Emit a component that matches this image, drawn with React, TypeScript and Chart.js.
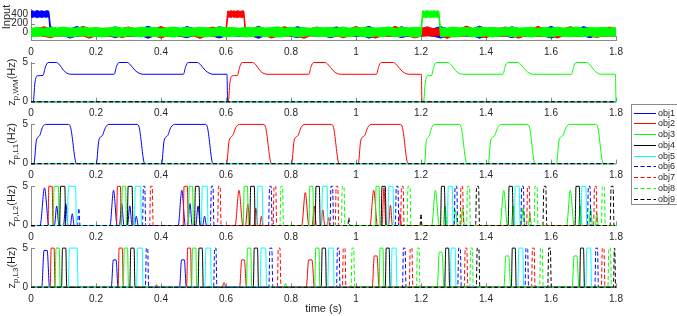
import React, { useEffect, useRef } from 'react';
import { Chart, registerables } from 'chart.js';
Chart.register(...registerables);

// ---------------- data ----------------
const xTickValues = [0, 0.2, 0.4, 0.6, 0.8, 1, 1.2, 1.4, 1.6, 1.8];
const xTickLabels = ['0', '0.2', '0.4', '0.6', '0.8', '1', '1.2', '1.4', '1.6', '1.8'];

const objNames = ['obj1', 'obj2', 'obj3', 'obj4', 'obj5', 'obj6', 'obj7', 'obj8', 'obj9'];
const objColors = ['#0000ff', '#ff0000', '#00ff00', '#000000', '#00ffff', '#0000ff', '#ff0000', '#00ff00', '#000000'];
const objDashed = [false, false, false, false, false, true, true, true, true];

// Input noise envelope (upper / lower extent), read every 0.02 s from 0 to 1.8 s
const envStep = 0.02;
const blueHi = [
  90, 85, 98, 132, 88, 94, 80, 138, 92, 86,
  96, 83, 90, 128, 87, 99, 84, 91, 142, 88,
  82, 95, 89, 86, 135, 93, 81, 97, 88, 130,
  94, 87, 83, 99, 90, 140, 85, 92, 96, 84,
  89, 133, 91, 86, 98, 82, 94, 127, 88, 93,
  85, 97, 139, 84, 90, 95, 87, 131, 92, 86,
  98, 83, 91, 136, 89, 94, 82, 96, 88, 144,
  85, 93, 99, 87, 129, 91, 84, 97, 90, 86,
  137, 92, 88, 95, 83, 134, 89, 94, 87, 91,
  86,
];
const blueLo = [
  -70, -112, -66, -78, -72, -64, -118, -75, -61, -80,
  -74, -68, -71, -108, -63, -79, -73, -67, -122, -70,
  -65, -77, -69, -81, -110, -66, -74, -62, -78, -116,
  -71, -64, -80, -68, -73, -124, -63, -76, -70, -67,
  -79, -107, -72, -65, -77, -62, -114, -74, -69, -66,
  -82, -68, -119, -71, -64, -76, -70, -106, -78, -67,
  -73, -65, -80, -117, -69, -75, -63, -77, -68, -121,
  -71, -66, -79, -72, -109, -64, -76, -70, -67, -78,
  -115, -69, -74, -65, -80, -71, -111, -66, -73, -68,
  -72,
];
const redHi = [
  88, 95, 131, 84, 92, 87, 98, 83, 141, 90,
  85, 96, 89, 81, 93, 127, 87, 99, 84, 91,
  136, 86, 95, 90, 82, 97, 88, 93, 125, 80,
  91, 88, 143, 85, 96, 90, 82, 94, 87, 133,
  89, 83, 97, 92, 124, 86, 95, 82, 93, 88,
  137, 84, 91, 98, 87, 81, 140, 90, 94, 85,
  96, 129, 83, 92, 89, 99, 86, 145, 88, 93,
  82, 95, 87, 126, 91, 84, 97, 90, 138, 86,
  92, 81, 94, 132, 88, 85, 96, 90, 83, 123,
  89,
];
const redLo = [
  -71, -66, -78, -113, -68, -74, -63, -80, -70, -121,
  -67, -76, -72, -65, -109, -69, -79, -64, -75, -71,
  -118, -67, -73, -81, -66, -70, -125, -68, -77, -63,
  -74, -106, -71, -79, -66, -72, -68, -116, -75, -65,
  -70, -78, -123, -67, -73, -69, -80, -64, -111, -72,
  -66, -75, -71, -119, -68, -77, -65, -74, -70, -114,
  -78, -67, -72, -64, -126, -69, -76, -71, -66, -79,
  -108, -68, -73, -75, -65, -120, -70, -67, -78, -72,
  -69, -117, -66, -74, -71, -77, -68, -105, -75, -70,
  -67,
];
const greenHi = [
  100, 112, 96, 118, 104, 125, 98, 110, 121, 102,
  115, 97, 108, 127, 101, 113, 99, 122, 106, 117,
  95, 111, 124, 103, 116, 100, 120, 107, 98, 126,
  109, 114, 96, 119, 105, 123, 101, 112, 128, 99,
  117, 104, 110, 96, 121, 108, 115, 102, 125, 97,
  113, 106, 119, 100, 111, 124, 98, 116, 103, 120,
  107, 95, 118, 110, 101, 126, 105, 114, 99, 122,
  109, 117, 97, 112, 123, 102, 108, 119, 96, 115,
  104, 121, 100, 113, 127, 98, 111, 106, 118, 103,
  110,
];
const greenLo = [
  -72, -85, -64, -90, -77, -68, -93, -80, -62, -87,
  -75, -95, -66, -83, -89, -70, -78, -92, -65, -86,
  -74, -81, -94, -69, -88, -63, -84, -91, -76, -67,
  -90, -79, -71, -94, -82, -65, -87, -73, -96, -78,
  -69, -91, -80, -64, -86, -75, -95, -72, -83, -89,
  -66, -81, -92, -74, -85, -62, -90, -77, -70, -94,
  -79, -67, -88, -83, -73, -96, -76, -65, -90, -82,
  -71, -93, -78, -64, -87, -80, -74, -95, -69, -84,
  -91, -66, -81, -89, -75, -86, -68, -92, -77, -72,
  -83,
];
// stimulus pulses in the input: start, end, and envelope read every 0.005 s
const bluePulse = { start: 0, end: 0.055, hi: [470, 482, 465, 478, 486, 468, 475, 480, 463, 477, 484, 472], lo: [342, 335, 350, 338, 330, 346, 340, 333, 348, 337, 344, 339] };
const redPulse = { start: 0.605, end: 0.655, hi: [475, 468, 482, 471, 479, 466, 485, 473, 469, 480, 476], lo: [338, 345, 332, 348, 336, 342, 330, 344, 339, 334, 347] };
const greenPulse = { start: 1.205, end: 1.255, hi: [481, 470, 476, 486, 467, 478, 472, 483, 469, 477, 474], lo: [336, 344, 331, 340, 347, 333, 342, 338, 345, 335, 341] };

// z_p,WM  [time, Hz]
const wmObj1 = [[0, 0], [0.007, 0], [0.012, 2.4], [0.019, 3.3], [0.037, 3.35], [0.044, 4.4], [0.053, 5], [0.078, 5], [0.088, 4.7], [0.1, 4.0], [0.11, 3.65], [0.122, 3.5], [0.256, 3.5], [0.263, 4.5], [0.271, 5], [0.296, 5], [0.306, 4.7], [0.32, 4.0], [0.332, 3.65], [0.345, 3.5], [0.469, 3.5], [0.476, 4.5], [0.484, 5], [0.512, 5], [0.522, 4.7], [0.536, 4.0], [0.548, 3.65], [0.56, 3.5], [0.603, 3.5], [0.605, 0], [1.8, 0]];
const wmObj2 = [[0, 0], [0.607, 0], [0.612, 2.4], [0.619, 3.3], [0.635, 3.35], [0.642, 4.4], [0.65, 5], [0.682, 5], [0.692, 4.7], [0.704, 4.0], [0.714, 3.65], [0.726, 3.5], [0.855, 3.5], [0.862, 4.5], [0.87, 5], [0.905, 5], [0.915, 4.7], [0.929, 4.0], [0.94, 3.65], [0.952, 3.5], [1.063, 3.5], [1.07, 4.5], [1.078, 5], [1.115, 5], [1.125, 4.7], [1.139, 4.0], [1.15, 3.65], [1.162, 3.5], [1.201, 3.5], [1.203, 0], [1.8, 0]];
const wmObj3 = [[0, 0], [1.208, 0], [1.213, 2.4], [1.22, 3.3], [1.232, 3.35], [1.239, 4.4], [1.247, 5], [1.283, 5], [1.293, 4.7], [1.306, 4.0], [1.316, 3.65], [1.328, 3.5], [1.452, 3.5], [1.459, 4.5], [1.466, 5], [1.498, 5], [1.508, 4.7], [1.522, 4.0], [1.533, 3.65], [1.545, 3.5], [1.663, 3.5], [1.67, 4.5], [1.677, 5], [1.71, 5], [1.72, 4.7], [1.733, 4.0], [1.743, 3.65], [1.752, 3.5], [1.798, 3.5], [1.8, 0]];
const zeroTrace = [[0, 0], [1.8, 0]];

// z_p,L1 [time, Hz]
const l1Obj1 = [[0, 0], [0.009, 0], [0.016, 2.8], [0.02, 3.3], [0.027, 3.6], [0.035, 4.6], [0.044, 5], [0.116, 5], [0.122, 4.6], [0.14, 0],
  [0.201, 0], [0.208, 2.8], [0.212, 3.3], [0.22, 3.6], [0.229, 4.6], [0.24, 5], [0.327, 5], [0.333, 4.6], [0.35, 0],
  [0.402, 0], [0.409, 2.8], [0.413, 3.3], [0.421, 3.6], [0.43, 4.6], [0.442, 5], [0.537, 5], [0.543, 4.6], [0.56, 0], [1.8, 0]];
const l1Obj2 = [[0, 0], [0.602, 0], [0.609, 2.8], [0.613, 3.3], [0.621, 3.6], [0.63, 4.6], [0.642, 5], [0.716, 5], [0.722, 4.6], [0.74, 0],
  [0.802, 0], [0.809, 2.8], [0.813, 3.3], [0.822, 3.6], [0.831, 4.6], [0.843, 5], [0.925, 5], [0.931, 4.6], [0.948, 0],
  [1.007, 0], [1.014, 2.8], [1.018, 3.3], [1.027, 3.6], [1.036, 4.6], [1.048, 5], [1.137, 5], [1.143, 4.6], [1.16, 0], [1.8, 0]];
const l1Obj3 = [[0, 0], [1.211, 0], [1.216, 2.8], [1.22, 3.3], [1.226, 3.6], [1.233, 4.6], [1.242, 5], [1.318, 5], [1.324, 4.6], [1.341, 0],
  [1.407, 0], [1.414, 2.8], [1.418, 3.3], [1.427, 3.6], [1.436, 4.6], [1.448, 5], [1.528, 5], [1.534, 4.6], [1.551, 0],
  [1.617, 0], [1.624, 2.8], [1.628, 3.3], [1.637, 3.6], [1.646, 4.6], [1.658, 5], [1.738, 5], [1.744, 4.6], [1.761, 0], [1.8, 0]];

// z_p,L2 pulses per object: [start, end, peak Hz, rounded plateau flag]
const l2Pulses = [
  [[0.028, 0.055, 4.8], [0.072, 0.086, 2.5], [0.1, 0.114, 2.8], [0.121, 0.133, 1.5], [0.243, 0.265, 4.5], [0.272, 0.286, 2.8], [0.297, 0.311, 2.5], [0.318, 0.33, 1.2], [0.453, 0.475, 4.5], [0.482, 0.496, 2.8], [0.507, 0.521, 2.5], [0.528, 0.54, 1.2]],
  [[0.052, 0.068, 5], [0.263, 0.278, 5], [0.468, 0.484, 5], [0.628, 0.652, 4.5], [0.66, 0.674, 2.7], [0.686, 0.698, 2.2], [0.704, 0.714, 1.2], [0.833, 0.855, 4.2], [0.865, 0.878, 2.5], [0.892, 0.904, 2.0], [0.91, 0.92, 1.0], [1.043, 1.066, 4.5], [1.08, 1.092, 4.8], [1.1, 1.112, 2.6], [1.13, 1.14, 1.5]],
  [[0.068, 0.087, 5], [0.278, 0.294, 5], [0.484, 0.5, 5], [0.653, 0.669, 5], [0.855, 0.87, 5], [1.059, 1.074, 5], [1.233, 1.256, 4.5], [1.268, 1.28, 2.5], [1.3, 1.312, 2], [1.322, 1.334, 2.2], [1.443, 1.466, 4.5], [1.478, 1.49, 2.5], [1.508, 1.52, 2.2], [1.53, 1.54, 1.5], [1.648, 1.671, 4.5], [1.684, 1.696, 2.5], [1.716, 1.728, 2.2], [1.736, 1.746, 1.5]],
  [[0.088, 0.107, 5], [0.296, 0.314, 5], [0.503, 0.52, 5], [0.673, 0.69, 5], [0.874, 0.89, 5], [1.077, 1.093, 5], [1.26, 1.275, 5], [1.468, 1.484, 5], [1.674, 1.69, 5]],
  [[0.112, 0.14, 5], [0.318, 0.34, 5], [0.524, 0.545, 5], [0.695, 0.714, 5], [0.894, 0.914, 5], [1.098, 1.117, 5], [1.281, 1.299, 5], [1.487, 1.505, 5], [1.692, 1.71, 5]],
  [[0.143, 0.151, 2.2], [0.343, 0.353, 5], [0.552, 0.563, 5], [0.731, 0.742, 5], [0.92, 0.931, 5], [1.121, 1.132, 5], [1.302, 1.313, 5], [1.507, 1.518, 5], [1.712, 1.723, 5]],
  [[0.365, 0.376, 5], [0.574, 0.585, 5], [0.745, 0.756, 5], [0.936, 0.947, 5], [1.137, 1.148, 5], [1.32, 1.331, 5], [1.525, 1.536, 5], [1.731, 1.742, 5]],
  [[0.766, 0.777, 5], [0.955, 0.966, 5], [1.157, 1.169, 5], [1.34, 1.352, 5], [1.548, 1.56, 5], [1.755, 1.767, 5]],
  [[0.975, 0.981, 1], [1.197, 1.203, 1.5], [1.368, 1.38, 5], [1.575, 1.587, 5], [1.782, 1.794, 5]],
];

// z_p,L3 pulses per object: [start, end, peak Hz, rounded plateau flag]
const l3Pulses = [
  [[0.033, 0.057, 4.7, 1], [0.247, 0.268, 3.5, 1], [0.457, 0.478, 3.5, 1]],
  [[0.059, 0.074, 5], [0.268, 0.284, 5], [0.38, 0.392, 0.3], [0.479, 0.494, 5], [0.588, 0.6, 0.6], [0.642, 0.663, 3.5, 1], [0.847, 0.872, 3.5, 1], [1.05, 1.071, 4.0, 1]],
  [[0.074, 0.09, 5], [0.284, 0.3, 5], [0.494, 0.51, 5], [0.663, 0.679, 5], [0.778, 0.788, 0.5], [0.873, 0.889, 5], [1.071, 1.086, 5], [1.25, 1.271, 4.5, 1], [1.455, 1.476, 4.0, 1], [1.665, 1.686, 4.0, 1]],
  [[0.094, 0.11, 5], [0.304, 0.32, 5], [0.514, 0.53, 5], [0.684, 0.7, 5], [0.893, 0.909, 5], [1.09, 1.105, 5], [1.273, 1.288, 5], [1.478, 1.493, 5], [1.688, 1.703, 5]],
  [[0.115, 0.145, 5], [0.325, 0.345, 5], [0.535, 0.555, 5], [0.705, 0.725, 5], [0.913, 0.933, 5], [1.108, 1.126, 5], [1.29, 1.308, 5], [1.498, 1.516, 5], [1.707, 1.725, 5]],
  [[0.352, 0.362, 5], [0.562, 0.572, 5], [0.732, 0.744, 5], [0.94, 0.951, 5], [1.143, 1.154, 5], [1.313, 1.324, 5], [1.52, 1.531, 5], [1.735, 1.746, 5]],
  [[0.758, 0.769, 5], [0.958, 0.969, 5], [1.164, 1.175, 5], [1.333, 1.344, 5], [1.54, 1.551, 5], [1.755, 1.766, 5]],
  [[0.985, 0.996, 5], [1.186, 1.197, 5], [1.35, 1.361, 5], [1.565, 1.576, 5], [1.775, 1.786, 5]],
  [[1.37, 1.381, 5], [1.59, 1.601, 5], [1.792, 1.799, 5]],
];

// ---------------- layout / style ----------------
const W = 677;
const H = 316;
const PLOT_LEFT = 31;
const PLOT_RIGHT = 616;
const XAXIS_H = 20;
const FONT = '"Liberation Sans", Arial, Helvetica, sans-serif';
const AXIS_COLOR = '#8a8a8a';
const TEXT_COLOR = '#262626';
const TICK_LEN = 4;
const EDGE = 0.003;

type Pt = { x: number; y: number };

function pairsToPoints(pairs: number[][]): Pt[] {
  return pairs.map(([x, y]) => ({ x, y }));
}

function pulsesToPoints(pulses: number[][]): Pt[] {
  const pts: Pt[] = [{ x: 0, y: 0 }];
  for (const [s, e, h, rounded] of pulses) {
    if (h >= 4.9) {
      pts.push({ x: s, y: 0 }, { x: s + EDGE, y: h }, { x: e - EDGE, y: h }, { x: e, y: 0 });
    } else if (rounded) {
      const r = (e - s) * 0.3;
      pts.push({ x: s, y: 0 }, { x: s + r, y: h }, { x: e - r, y: h }, { x: e, y: 0 });
    } else {
      pts.push({ x: s, y: 0 }, { x: (s + e) / 2, y: h }, { x: e, y: 0 });
    }
  }
  pts.push({ x: 1.8, y: 0 });
  return pts;
}

// envelope series with the stimulus pulse placed into it
function envelopeSeries(env: number[], pulse: { start: number; end: number }, pulseVals: number[]): Pt[] {
  const n = pulseVals.length;
  const pulsePts = pulseVals.map((v, i) => ({ x: pulse.start + (i * (pulse.end - pulse.start)) / (n - 1), y: v }));
  const pts: Pt[] = [];
  let inserted = false;
  env.forEach((v, i) => {
    const t = i * envStep;
    if (t < pulse.start - 1e-9) pts.push({ x: t, y: v });
    else if (t > pulse.end + 1e-9) {
      if (!inserted) { pts.push(...pulsePts); inserted = true; }
      pts.push({ x: t, y: v });
    }
  });
  if (!inserted) pts.push(...pulsePts);
  return pts;
}

function bandDatasets(hi: number[], lo: number[], pulse: { start: number; end: number; hi: number[]; lo: number[] }, color: string, order: number) {
  return [
    { data: envelopeSeries(hi, pulse, pulse.hi), borderColor: color, backgroundColor: color, borderWidth: 1, pointRadius: 0, fill: '+1', order, clip: false },
    { data: envelopeSeries(lo, pulse, pulse.lo), borderColor: color, backgroundColor: color, borderWidth: 1, pointRadius: 0, fill: false, order, clip: false },
  ];
}

function objDatasets(series: Pt[][]) {
  return series.map((data, i) => ({
    label: objNames[i],
    data,
    borderColor: objColors[i],
    borderWidth: 1,
    borderDash: objDashed[i] ? [4, 2.5] : [],
    pointRadius: 0,
    fill: false,
    cubicInterpolationMode: 'monotone' as const,
    clip: false as const,
    order: -i,
  }));
}

type Panel = {
  id: string;
  top: number;
  bottom: number;
  yMin: number;
  yMax: number;
  yTicks: number[];
  yLabels: string[];
  title: { main: string; sub: string; unit: string; x: number };
  datasets: any[];
  legend?: boolean;
  xTitle?: string;
};

const zTicks = [0, 5];
const zTickLabels = ['0', '5'];

const panels: Panel[] = [
  {
    id: 'input', top: 1, bottom: 40, yMin: -160, yMax: 520, yTicks: [0, 200, 400], yLabels: ['0', '200', '400'],
    title: { main: 'Input', sub: '', unit: '', x: 9.5 },
    datasets: [
      ...bandDatasets(blueHi, blueLo, bluePulse, '#0000ff', 0),
      ...bandDatasets(redHi, redLo, redPulse, '#ff0000', -1),
      ...bandDatasets(greenHi, greenLo, greenPulse, '#00ff00', -2),
    ],
  },
  {
    id: 'wm', top: 62.5, bottom: 101.7, yMin: 0, yMax: 5, yTicks: zTicks, yLabels: zTickLabels,
    title: { main: 'z', sub: 'p,WM', unit: '(Hz)', x: 14.5 },
    datasets: objDatasets([pairsToPoints(wmObj1), pairsToPoints(wmObj2), pairsToPoints(wmObj3), ...[0, 1, 2, 3, 4, 5].map(() => pairsToPoints(zeroTrace))]),
  },
  {
    id: 'l1', top: 124.4, bottom: 163.6, yMin: 0, yMax: 5, yTicks: zTicks, yLabels: zTickLabels,
    title: { main: 'z', sub: 'p,L1', unit: '(Hz)', x: 14.5 },
    datasets: objDatasets([pairsToPoints(l1Obj1), pairsToPoints(l1Obj2), pairsToPoints(l1Obj3), ...[0, 1, 2, 3, 4, 5].map(() => pairsToPoints(zeroTrace))]),
    legend: true,
  },
  {
    id: 'l2', top: 186.3, bottom: 225.5, yMin: 0, yMax: 5, yTicks: zTicks, yLabels: zTickLabels,
    title: { main: 'z', sub: 'p,L2', unit: '(Hz)', x: 14.5 },
    datasets: objDatasets(l2Pulses.map(pulsesToPoints)),
  },
  {
    id: 'l3', top: 248.1, bottom: 287.3, yMin: 0, yMax: 5, yTicks: zTicks, yLabels: zTickLabels,
    title: { main: 'z', sub: 'p,L3', unit: '(Hz)', x: 14.5 },
    datasets: objDatasets(l3Pulses.map(pulsesToPoints)),
    xTitle: 'time (s)',
  },
];

function drawYTitle(ctx: CanvasRenderingContext2D, t: Panel['title'], cy: number) {
  ctx.save();
  ctx.translate(t.x, cy);
  ctx.rotate(-Math.PI / 2);
  ctx.fillStyle = TEXT_COLOR;
  ctx.textBaseline = 'alphabetic';
  ctx.textAlign = 'left';
  const mainFont = `11px ${FONT}`;
  const subFont = `8px ${FONT}`;
  ctx.font = mainFont;
  const w1 = ctx.measureText(t.main).width;
  const w3 = t.unit ? ctx.measureText(t.unit).width : 0;
  ctx.font = subFont;
  const w2 = t.sub ? ctx.measureText(t.sub).width : 0;
  let x = -(w1 + w2 + w3) / 2;
  ctx.font = mainFont;
  ctx.fillText(t.main, x, 0);
  x += w1;
  if (t.sub) {
    ctx.font = subFont;
    ctx.fillText(t.sub, x, 3);
    x += w2;
  }
  if (t.unit) {
    ctx.font = mainFont;
    ctx.fillText(t.unit, x, 0);
  }
  ctx.restore();
}

const matlabPlugin = {
  id: 'matlab',
  beforeDatasetsDraw(chart: any, _args: any, opts: any) {
    const ctx: CanvasRenderingContext2D = chart.ctx;
    const a = chart.chartArea;
    const xs = chart.scales.x;
    const ys = chart.scales.y;
    ctx.save();
    ctx.strokeStyle = AXIS_COLOR;
    ctx.lineWidth = 1;
    ctx.beginPath();
    for (const v of xTickValues) {
      const px = Math.round(xs.getPixelForValue(v)) + 0.5;
      ctx.moveTo(px, a.bottom);
      ctx.lineTo(px, a.bottom - TICK_LEN);
    }
    for (const v of opts.yTicks as number[]) {
      const py = Math.round(ys.getPixelForValue(v)) + 0.5;
      ctx.moveTo(a.left, py);
      ctx.lineTo(a.left + TICK_LEN, py);
    }
    ctx.stroke();
    ctx.restore();
  },
  afterDraw(chart: any, _args: any, opts: any) {
    const ctx: CanvasRenderingContext2D = chart.ctx;
    const a = chart.chartArea;
    drawYTitle(ctx, opts.title, opts.title.sub ? (a.top + a.bottom) / 2 : 17);
    if (opts.xTitle) {
      ctx.save();
      ctx.fillStyle = TEXT_COLOR;
      ctx.font = `11px ${FONT}`;
      ctx.textAlign = 'center';
      ctx.textBaseline = 'middle';
      ctx.fillText(opts.xTitle, (a.left + a.right) / 2, 309);
      ctx.restore();
    }
    if (opts.legend) {
      const bx = 631.5, by = 104.5, bw = 50, bh = 100;
      const rowY0 = 112.5, rowH = 10.75;
      ctx.save();
      ctx.fillStyle = '#ffffff';
      ctx.fillRect(bx, by, bw, bh);
      ctx.strokeStyle = AXIS_COLOR;
      ctx.lineWidth = 1;
      ctx.strokeRect(bx, by, bw, bh);
      ctx.font = `9px ${FONT}`;
      ctx.textBaseline = 'middle';
      ctx.textAlign = 'left';
      chart.data.datasets.forEach((ds: any, i: number) => {
        const y = Math.round(rowY0 + i * rowH) + 0.5;
        ctx.strokeStyle = ds.borderColor;
        ctx.setLineDash(ds.borderDash || []);
        ctx.beginPath();
        ctx.moveTo(634, y);
        ctx.lineTo(656, y);
        ctx.stroke();
        ctx.setLineDash([]);
        ctx.fillStyle = TEXT_COLOR;
        ctx.fillText(ds.label, 658, y);
      });
      ctx.restore();
    }
  },
};

function buildConfig(p: Panel): any {
  return {
    type: 'line',
    data: { datasets: p.datasets },
    options: {
      animation: false,
      responsive: false,
      devicePixelRatio: 1,
      events: [],
      layout: { padding: { left: 0, right: W - PLOT_RIGHT, top: p.top, bottom: H - p.bottom - XAXIS_H } },
      plugins: {
        legend: { display: false },
        tooltip: { enabled: false },
        filler: { propagate: false },
        matlab: { yTicks: p.yTicks, title: p.title, legend: !!p.legend, xTitle: p.xTitle },
      },
      elements: { point: { radius: 0 }, line: { borderWidth: 1, tension: 0 } },
      scales: {
        x: {
          type: 'linear',
          min: 0,
          max: 1.8,
          afterFit: (s: any) => { s.height = XAXIS_H; },
          afterBuildTicks: (s: any) => { s.ticks = xTickValues.map((v) => ({ value: v })); },
          ticks: {
            autoSkip: false,
            maxRotation: 0,
            padding: 6,
            color: TEXT_COLOR,
            font: { family: FONT, size: 10 },
            callback: (_v: any, i: number) => xTickLabels[i],
          },
          grid: { display: false, drawTicks: false },
          border: { display: true, color: AXIS_COLOR, width: 1 },
        },
        y: {
          type: 'linear',
          min: p.yMin,
          max: p.yMax,
          afterFit: (s: any) => { s.width = PLOT_LEFT; },
          afterBuildTicks: (s: any) => { s.ticks = p.yTicks.map((v) => ({ value: v })); },
          ticks: {
            autoSkip: false,
            padding: 3,
            color: TEXT_COLOR,
            font: { family: FONT, size: 10 },
            callback: (_v: any, i: number) => p.yLabels[i],
          },
          grid: { display: false, drawTicks: false },
          border: { display: true, color: AXIS_COLOR, width: 1 },
        },
      },
    },
    plugins: [matlabPlugin],
  };
}

export default function App() {
  const refs = useRef<(HTMLCanvasElement | null)[]>([]);
  useEffect(() => {
    const charts = panels.map((p, i) => new Chart(refs.current[i] as HTMLCanvasElement, buildConfig(p)));
    return () => charts.forEach((c) => c.destroy());
  }, []);
  return (
    <div style={{ position: 'fixed', left: 0, top: 0, width: W, height: H, background: '#ffffff', overflow: 'hidden' }}>
      {panels.map((p, i) => (
        <canvas
          key={p.id}
          ref={(el) => { refs.current[i] = el; }}
          width={W}
          height={H}
          style={{ position: 'absolute', left: 0, top: 0, width: W, height: H }}
        />
      ))}
    </div>
  );
}
